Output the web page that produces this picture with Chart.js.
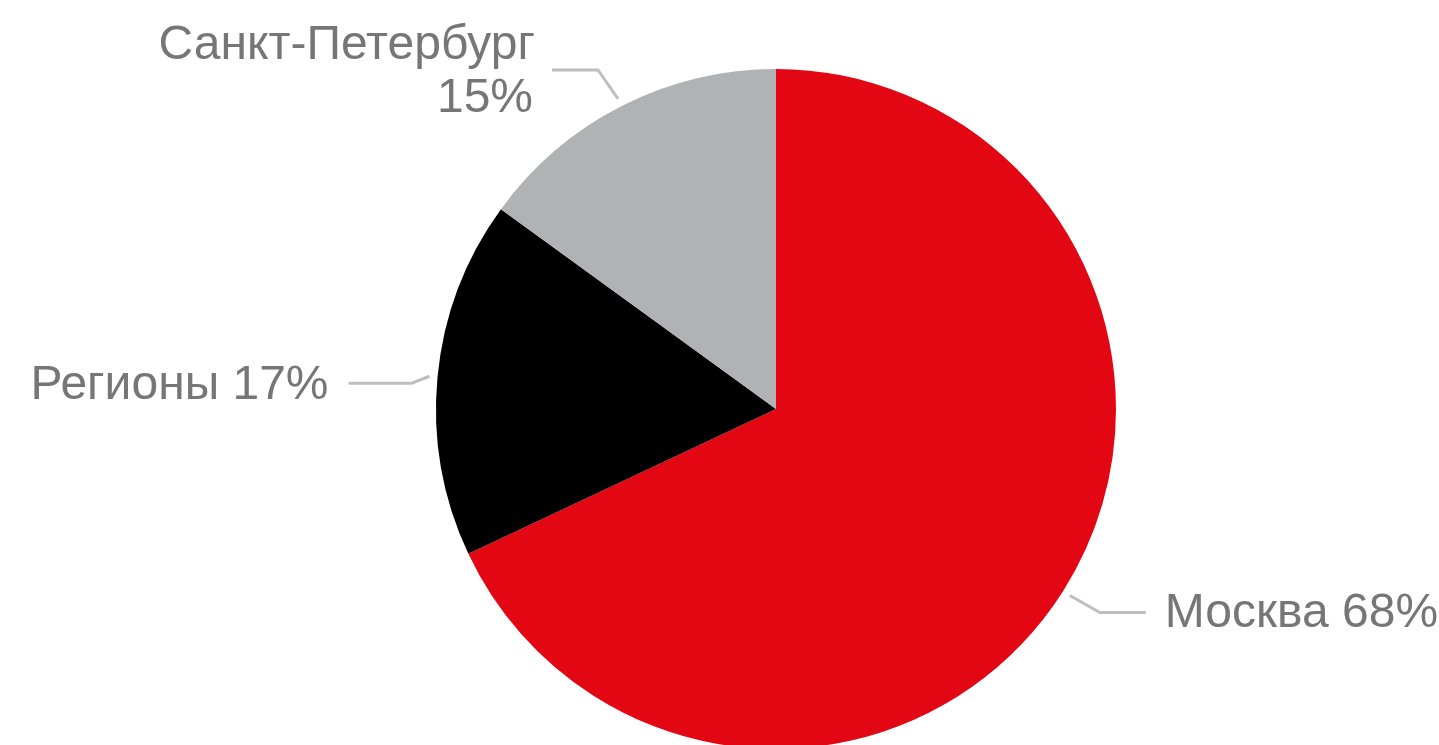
<!DOCTYPE html>
<html lang="ru">
<head>
<meta charset="utf-8">
<title>Распределение по регионам</title>
<script src="https://cdn.jsdelivr.net/npm/chart.js@4/dist/chart.umd.min.js"></script>
<style>
  html, body { margin: 0; padding: 0; background: #fff; overflow: hidden; }
  #wrap { width: 1439px; height: 800px; }
</style>
</head>
<body>
<div id="wrap"><canvas id="pieChart" width="1439" height="800"></canvas></div>
<script>
// Доли по регионам, %
const regions = ['Москва', 'Регионы', 'Санкт-Петербург'];
const shares = [68, 17, 15];
const colors = ['#E30613', '#000000', '#B1B2B4'];

// Выноски: смещение излома от края сектора, длина горизонтали, сторона текста
const leaders = [
    { dx: 30, dy: 17, len: 46, side: 'right', wrap: false },
    { dx: -18, dy: 7, len: 63, side: 'left', wrap: false },
    { dx: -20, dy: -29, len: 46, side: 'left', wrap: true }
];

const calloutPlugin = {
    id: 'callouts',
    afterDatasetsDraw(chart) {
        const ctx = chart.ctx;
        const meta = chart.getDatasetMeta(0);
        ctx.save();
        ctx.font = '48px "Liberation Sans", Arial, sans-serif';
        ctx.fillStyle = '#767676';
        ctx.textBaseline = 'alphabetic';
        meta.data.forEach((arc, i) => {
            const p = arc.getProps(['x', 'y', 'startAngle', 'endAngle', 'outerRadius'], true);
            const mid = (p.startAngle + p.endAngle) / 2;
            const r = p.outerRadius + 8;
            const sx = p.x + Math.cos(mid) * r;
            const sy = p.y + Math.sin(mid) * r;
            const cfg = leaders[i];
            const ex = sx + cfg.dx;
            const ey = sy + cfg.dy;
            const fx = cfg.side === 'right' ? ex + cfg.len : ex - cfg.len;

            ctx.strokeStyle = '#BEBEBE';
            ctx.lineWidth = 3;
            ctx.beginPath();
            ctx.moveTo(sx, sy);
            ctx.lineTo(ex, ey);
            ctx.lineTo(fx, ey);
            ctx.stroke();

            const text = regions[i] + ' ' + shares[i] + '%';
            if (cfg.side === 'right') {
                ctx.textAlign = 'left';
                ctx.fillText(text, fx + 19, ey + 15);
            } else if (cfg.wrap) {
                ctx.textAlign = 'right';
                ctx.fillText(regions[i], fx - 17, ey - 11);
                ctx.fillText(shares[i] + '%', fx - 19, ey + 42);
            } else {
                ctx.textAlign = 'right';
                ctx.fillText(text, fx - 20, ey + 16);
            }
        });
        ctx.restore();
    }
};

new Chart(document.getElementById('pieChart').getContext('2d'), {
    type: 'pie',
    data: {
        labels: regions,
        datasets: [{
            data: shares,
            backgroundColor: colors,
            borderWidth: 0
        }]
    },
    options: {
        responsive: false,
        animation: false,
        layout: {
            padding: { left: 436, right: 323, top: 69, bottom: 51 }
        },
        plugins: {
            legend: { display: false },
            tooltip: { enabled: false }
        }
    },
    plugins: [calloutPlugin]
});
</script>
</body>
</html>
